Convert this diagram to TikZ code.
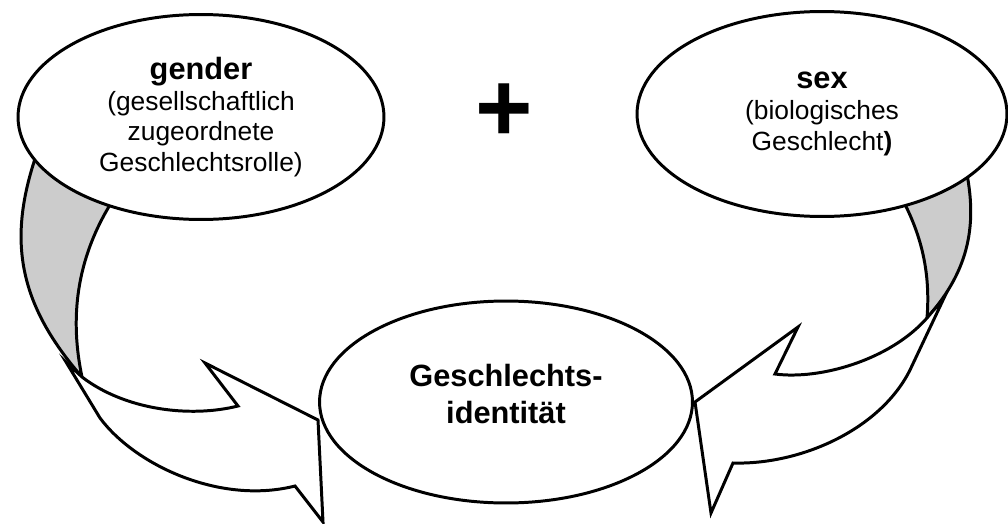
\documentclass[tikz,border=0pt]{standalone}
\usepackage{fontspec}
\setmainfont{Liberation Sans}
\usetikzlibrary{shapes.geometric}

\tikzset{
  blob/.style={ellipse, draw, fill=white, line width=1.7pt, inner sep=0pt,
    align=center, font=\fontsize{15}{17.5}\selectfont},
  back/.style={draw, fill=black!20, line width=1.7pt},
  front/.style={draw, fill=white, line width=1.7pt},
}
\newcommand{\headline}[1]{{\fontsize{17.5}{17.5}\selectfont\bfseries #1}}

\begin{document}
\begin{tikzpicture}[x=0.02cm, y=-0.02cm]
\useasboundingbox (0,0) rectangle (1008,524);

% grey backs of the two ribbons
\path[back] (38,150) .. controls (8,235) and (15,300) .. (82,377)
	.. controls (70,320) and (75,260) .. (113,200) -- cycle;
\path[back] (965,165) .. controls (980,230) and (965,275) .. (927,318)
	.. controls (930,280) and (925,240) .. (900,195) -- cycle;

% white fronts with the heads
\path[front] (66,362) -- (100,418) .. controls (135,465) and (220,505) .. (295,486)
	-- (323,522) -- (318,420) -- (205,363) -- (238,406)
	.. controls (190,418) and (125,410) .. (82,377) -- cycle;
\path[front] (944,298) -- (910,370) .. controls (880,430) and (800,465) .. (733,463)
	-- (711,513) -- (695,402) -- (798,327) -- (775,374)
	.. controls (820,380) and (890,360) .. (927,318) -- cycle;

\node[blob, minimum width=7.32cm, minimum height=4.1cm] (gender) at (201,117)
	{\headline{gender}\\(gesellschaftlich\\zugeordnete\\Geschlechtsrolle)};
\node[blob, minimum width=7.4cm, minimum height=4.1cm] (sex) at (822,114)
	{\headline{sex}\\(biologisches\\Geschlecht\textbf{)}};
\node[blob, minimum width=7.46cm, minimum height=4.04cm] (ident) at (506,402) {};
\node[align=center, font=\fontsize{17.5}{21}\selectfont\bfseries] (identtext)
	at ([yshift=4.5pt]ident.center) {Geschlechts-\\identität};

\node[font=\fontsize{56}{56}\selectfont\bfseries] (plus) at (504,113) {+};

\end{tikzpicture}
\end{document}
